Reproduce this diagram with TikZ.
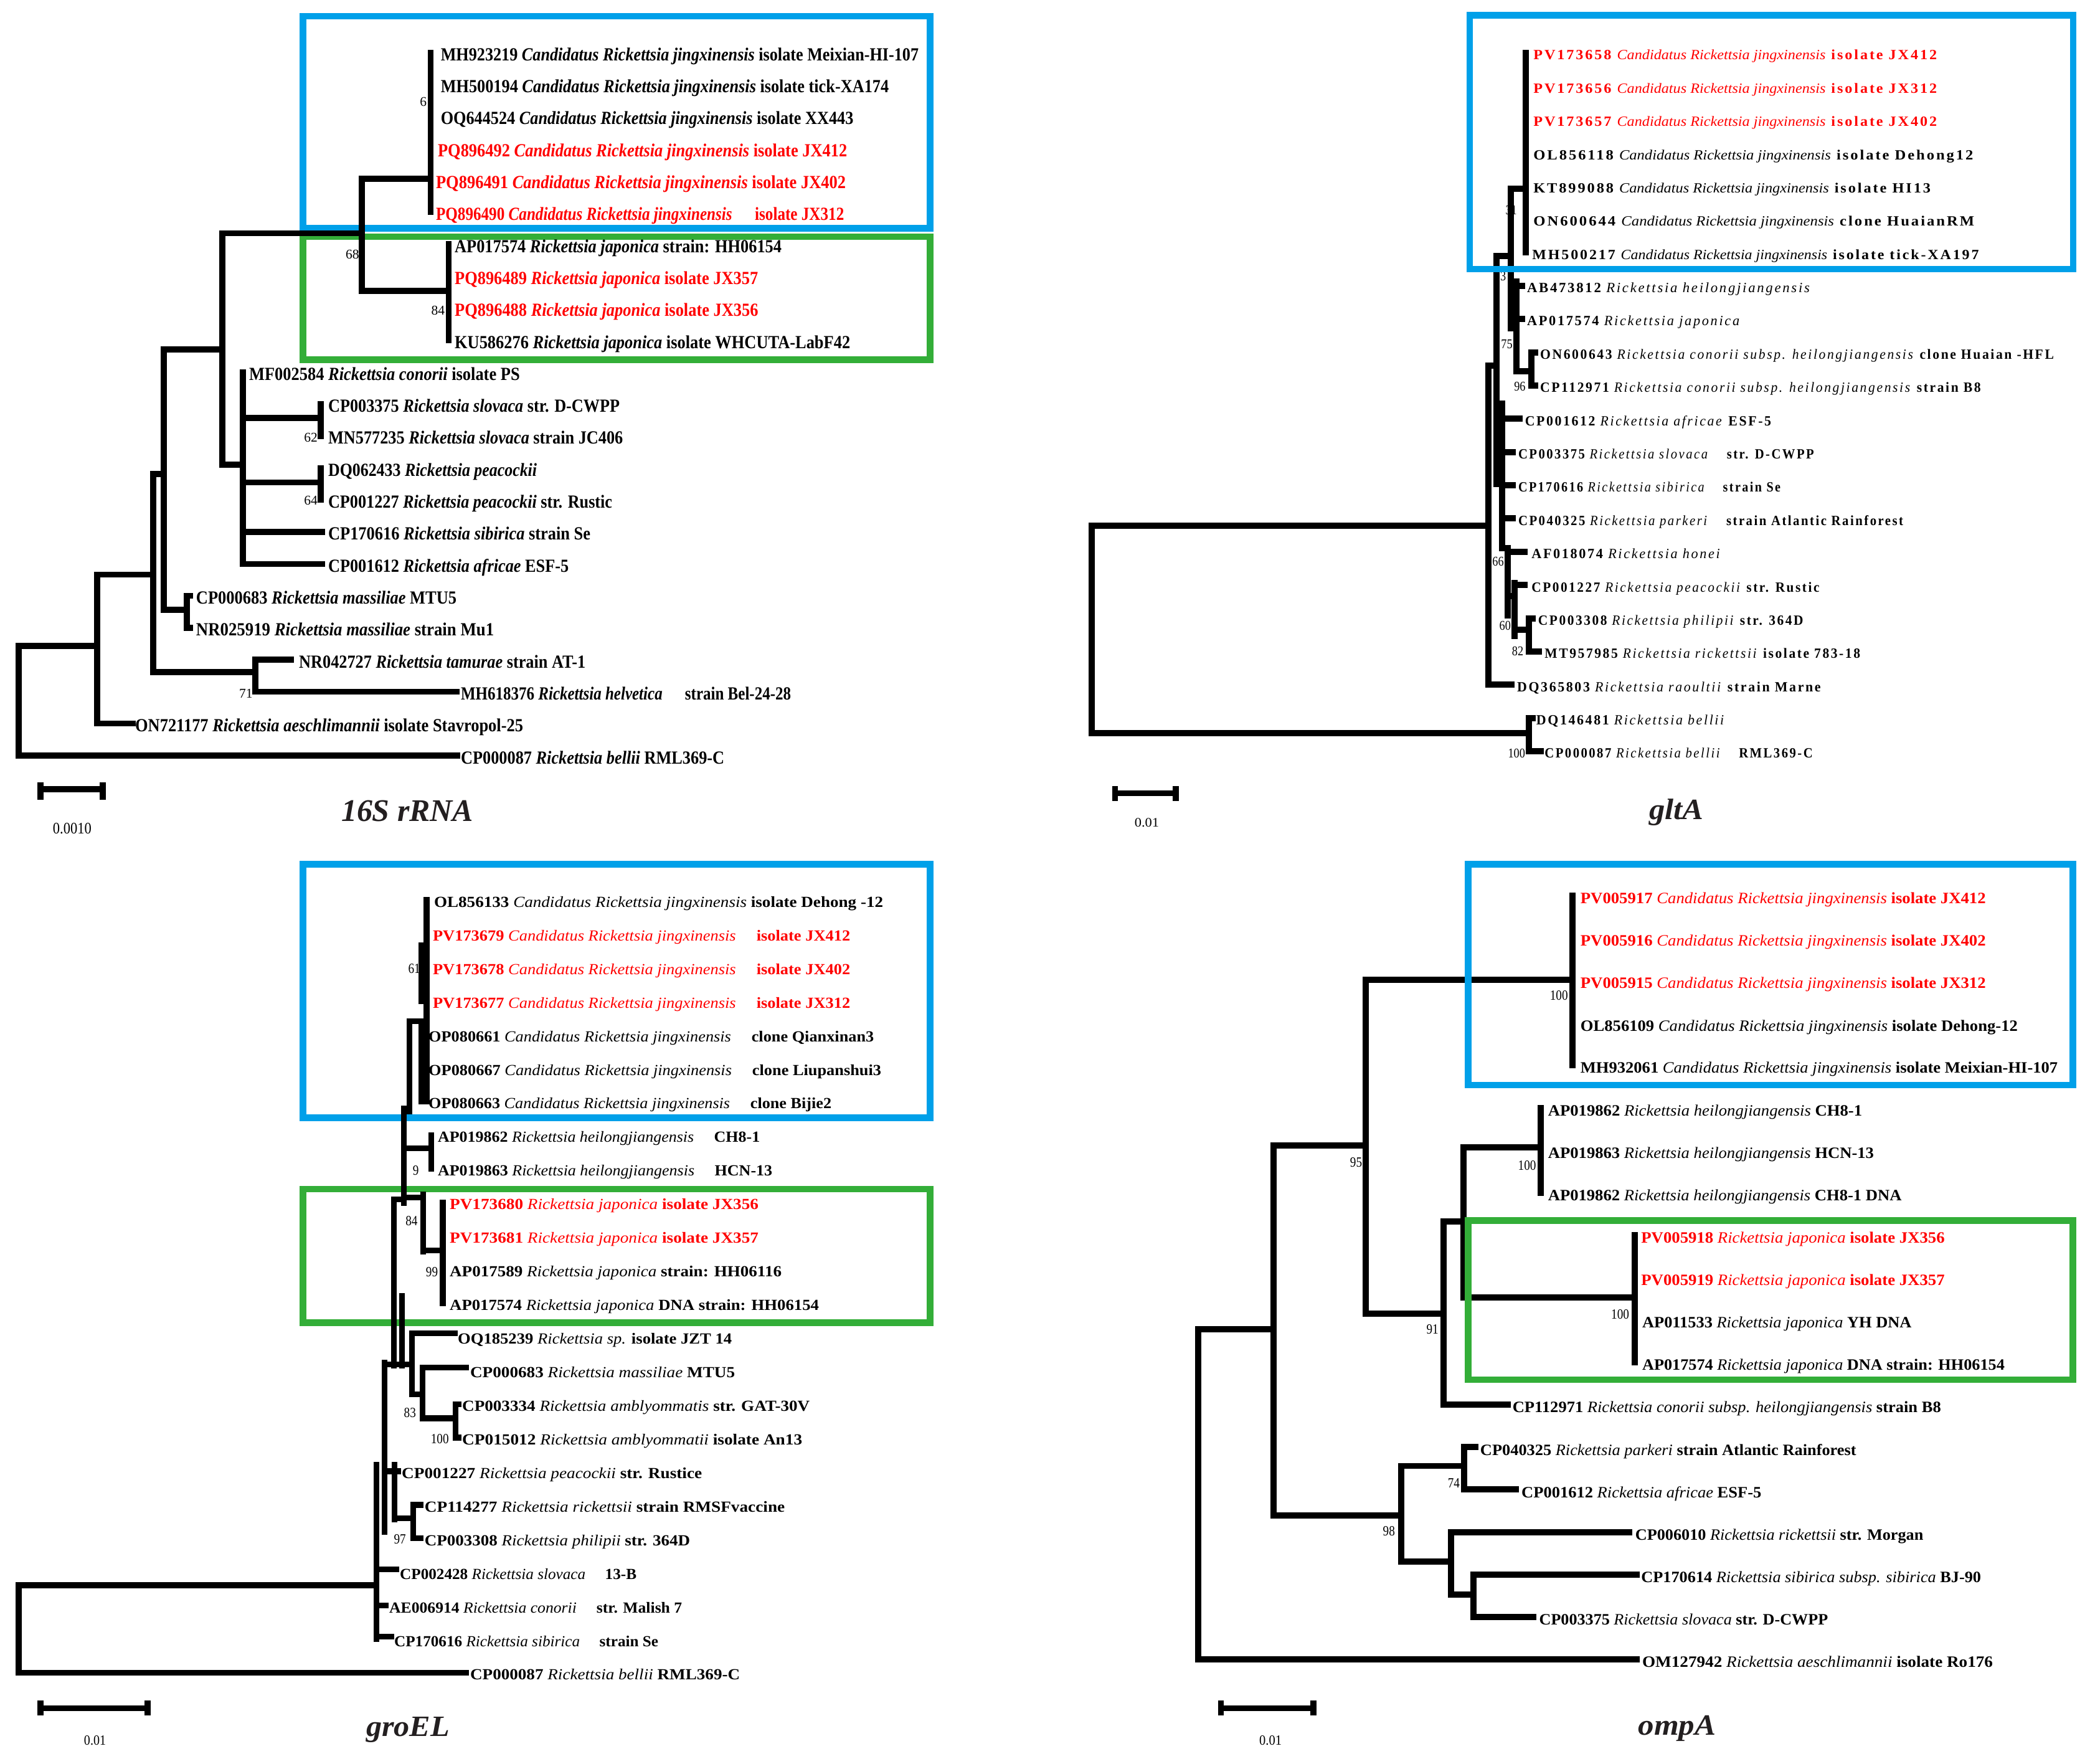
\documentclass[tikz,border=0pt]{standalone}
\usepackage{fontspec}
\usepackage{graphicx}
\setmainfont{Liberation Serif}
\newfontfamily\gfont[LetterSpace=12]{Liberation Serif}
\newfontfamily\bsfont[FakeStretch=0.85]{Liberation Serif}
\definecolor{boxblue}{RGB}{0,160,233}
\definecolor{boxgreen}{RGB}{51,174,56}
\definecolor{labred}{RGB}{255,0,0}
\definecolor{titlec}{RGB}{35,31,32}
\newcommand\R[1]{\textcolor{labred}{#1}}
\newcommand\pf{}
\newcommand\bsf{}
\newcommand\bo{0}
\newcommand\txs{\mdseries}
\newcommand\tx[1]{\textit{\txs #1}}
\newcommand\leaf[5]{\node[leafn] (#1) at (#2,#4+\bo) {\resizebox{\dimexpr #3pt-#2pt\relax}{\height}{\pf #5}};}
\newcommand\bs[4]{\node[bsn] (#1) at (#2,#3) {\bsf #4};}
\tikzset{
  br/.style={line width=4.4pt, line cap=rect},
  sbar/.style={line width=4.4pt, line cap=butt},
  bluebox/.style={draw=boxblue, line width=5pt},
  greenbox/.style={draw=boxgreen, line width=5pt},
  leafn/.style={anchor=base west, inner sep=0pt, outer sep=0pt},
  bsn/.style={inner sep=0pt, outer sep=0pt},
  titlen/.style={anchor=base west, inner sep=0pt, outer sep=0pt, text=titlec},
  scalen/.style={inner sep=0pt, outer sep=0pt},
}
\begin{document}
\begin{tikzpicture}[x=1pt,y=-1pt]
\useasboundingbox[fill=white] (0,0) rectangle (1560,1316.4);

%================ 16S rRNA =================
\draw[bluebox] (226,12.1) rectangle (694.3,170.3);
\draw[greenbox] (226,176.6) rectangle (694.3,268.3);
\renewcommand\bsf{\fontsize{10}{11}\selectfont}
\bs{s1}{316}{76}{6}
\bs{s2}{263}{190}{68}
\bs{s3}{327}{231.5}{84}
\bs{s4}{232}{326.5}{62}
\bs{s5}{232}{373.5}{64}
\bs{s6}{183.5}{517.4}{71}
\begin{scope}[br]
\draw (14,482) -- (14,563.9);
\draw (14,482) -- (72.5,482);
\draw (14,563.9) -- (341.5,563.9);
\draw (72.5,428.8) -- (72.5,540);
\draw (72.5,540) -- (99,540);
\draw (72.5,428.8) -- (114.4,428.8);
\draw (114.4,353.7) -- (114.4,501.6);
\draw (114.4,353.7) -- (122.3,353.7);
\draw (114.4,501.6) -- (190.6,501.6);
\draw (190.6,492.3) -- (190.6,516.2);
\draw (190.6,492.3) -- (217,492.3);
\draw (190.6,516.2) -- (341,516.2);
\draw (122.3,260.8) -- (122.3,455);
\draw (122.3,455) -- (139.5,455);
\draw (139.5,444.6) -- (139.5,468.5);
\draw (139.5,444.6) -- (142,444.6);
\draw (139.5,468.5) -- (142,468.5);
\draw (122.3,260.8) -- (166,260.8);
\draw (166,174.2) -- (166,346.8);
\draw (166,346.8) -- (181.3,346.8);
\draw (181.3,277.7) -- (181.3,420.8);
\draw (181.3,311.9) -- (239.4,311.9);
\draw (239.4,301.5) -- (239.4,325.4);
\draw (181.3,360) -- (239.4,360);
\draw (239.4,349.2) -- (239.4,373.1);
\draw (181.3,396.9) -- (240.5,396.9);
\draw (181.3,420.8) -- (240.5,420.8);
\draw (166,174.2) -- (270,174.2);
\draw (270,133.5) -- (270,217);
\draw (270,133.5) -- (321.5,133.5);
\draw (321.5,39.2) -- (321.5,158.4);
\draw (270,217) -- (335,217);
\draw (335,182.3) -- (335,253.8);
\end{scope}
\renewcommand\pf{\bfseries\fontsize{13.8}{15}\selectfont}
\renewcommand\txs{}
\renewcommand\bo{4.5}
\leaf{a1}{329}{685.7}{40.7}{MH923219 \tx{Candidatus Rickettsia jingxinensis} isolate Meixian-HI-107}
\leaf{a2}{329}{663.4}{64.55}{MH500194 \tx{Candidatus Rickettsia jingxinensis} isolate tick-XA174}
\leaf{a3}{329}{637}{88.4}{OQ644524 \tx{Candidatus Rickettsia jingxinensis} isolate XX443}
\leaf{a4}{326.8}{632.3}{112.25}{\R{PQ896492 \tx{Candidatus Rickettsia jingxinensis} isolate JX412}}
\leaf{a5}{325.4}{631.3}{136.1}{\R{PQ896491 \tx{Candidatus Rickettsia jingxinensis} isolate JX402}}
\leaf{a6}{325.4}{630}{159.95}{\R{PQ896490 \tx{Candidatus Rickettsia jingxinensis}\hspace{1.2em} isolate JX312}}
\leaf{a7}{339.4}{583.4}{183.8}{AP017574 \tx{Rickettsia japonica} strain: HH06154}
\leaf{a8}{339.4}{565.8}{207.65}{\R{PQ896489 \tx{Rickettsia japonica} isolate JX357}}
\leaf{a9}{339.4}{566}{231.5}{\R{PQ896488 \tx{Rickettsia japonica} isolate JX356}}
\leaf{a10}{339.4}{634.6}{255.35}{KU586276 \tx{Rickettsia japonica} isolate WHCUTA-LabF42}
\leaf{a11}{186}{388}{279.2}{MF002584 \tx{Rickettsia conorii} isolate PS}
\leaf{a12}{245}{462.6}{303.05}{CP003375 \tx{Rickettsia slovaca} str. D-CWPP}
\leaf{a13}{245}{465}{326.9}{MN577235 \tx{Rickettsia slovaca} strain JC406}
\leaf{a14}{245}{400.7}{350.75}{DQ062433 \tx{Rickettsia peacockii}}
\leaf{a15}{245}{457}{374.6}{CP001227 \tx{Rickettsia peacockii} str. Rustic}
\leaf{a16}{245}{440.7}{398.45}{CP170616 \tx{Rickettsia sibirica} strain Se}
\leaf{a17}{245}{424.5}{422.3}{CP001612 \tx{Rickettsia africae} ESF-5}
\leaf{a18}{146.4}{340.8}{446.15}{CP000683 \tx{Rickettsia massiliae} MTU5}
\leaf{a19}{146.4}{368.7}{470}{NR025919 \tx{Rickettsia massiliae} strain Mu1}
\leaf{a20}{223.2}{437}{493.85}{NR042727 \tx{Rickettsia tamurae} strain AT-1}
\leaf{a21}{344}{590.4}{517.7}{MH618376 \tx{Rickettsia helvetica}\hspace{1.2em} strain Bel-24-28}
\leaf{a22}{100.9}{390.5}{541.55}{ON721177 \tx{Rickettsia aeschlimannii} isolate Stavropol-25}
\leaf{a23}{344}{540.7}{565.4}{CP000087 \tx{Rickettsia bellii} RML369-C}
% scale bar
\draw[sbar] (30.2,589) -- (76.7,589);
\draw[sbar] (30.2,583.7) -- (30.2,596.7);
\draw[sbar] (76.7,583.7) -- (76.7,596.7);
\node[scalen] (sc1) at (53.9,618.5) {\resizebox{28.8pt}{\height}{\fontsize{12}{13}\selectfont 0.0010}};
\node[titlen] (t1) at (254.8,612.7) {\resizebox{98.5pt}{\height}{\fontsize{23.5}{26}\selectfont\bfseries\itshape 16S rRNA}};

%================ gltA =================
\renewcommand\bsf{\bsfont\fontsize{10}{11}\selectfont}
\bs{g1}{1128}{157}{31}
\bs{g2}{1122}{206.3}{3}
\bs{g3}{1124.7}{256.7}{75}
\bs{g4}{1134.4}{288.2}{96}
\bs{g5}{1118.2}{419.2}{66}
\bs{g6}{1123.4}{467.1}{60}
\bs{g7}{1132.8}{486}{82}
\bs{g8}{1132}{562.1}{100}
\begin{scope}[br, line width=4.6pt]
\draw (815,392.5) -- (815,547);
\draw (815,392.5) -- (1111,392.5);
\draw (815,547) -- (1141,547);
\draw (1141,535.8) -- (1141,560.6);
\draw (1141,535.8) -- (1144,535.8);
\draw (1141,560.6) -- (1150,560.6);
\draw (1111,273) -- (1111,511);
\draw (1111,511) -- (1128,511);
\draw (1117,191) -- (1117,361);
\draw (1111,273) -- (1117,273);
\draw (1117,191) -- (1127.5,191);
\draw (1127.5,141) -- (1127.5,245);
\draw (1127.5,141) -- (1139,141);
\draw (1139,39.6) -- (1139,188.5);
\draw (1132,210) -- (1132,277);
\draw (1132,213.3) -- (1136,213.3);
\draw (1132,238.1) -- (1136,238.1);
\draw (1132,277) -- (1143,277);
\draw (1143,262.9) -- (1143,287.7);
\draw (1143,262.9) -- (1146,262.9);
\draw (1143,287.7) -- (1146,287.7);
\draw (1121,301) -- (1121,409);
\draw (1117,361) -- (1121,361);
\draw (1121,312.5) -- (1134,312.5);
\draw (1121,337.3) -- (1129,337.3);
\draw (1121,362.1) -- (1129,362.1);
\draw (1121,386.9) -- (1129,386.9);
\draw (1121,409) -- (1125.5,409);
\draw (1125.5,409) -- (1125.5,459.5);
\draw (1125.5,411.8) -- (1138,411.8);
\draw (1125.5,445) -- (1130.5,445);
\draw (1130.5,435) -- (1130.5,474.7);
\draw (1130.5,436.6) -- (1138,436.6);
\draw (1130.5,470) -- (1141,470);
\draw (1141,461.4) -- (1141,486.2);
\draw (1141,461.4) -- (1144,461.4);
\draw (1141,486.2) -- (1148.4,486.2);
\end{scope}
\draw[bluebox] (1097,11.5) rectangle (1547.4,200.8);
\renewcommand\pf{\gfont\bfseries\fontsize{10.5}{12}\selectfont}
\renewcommand\txs{\mdseries\rmfamily}
\newcommand\gx[1]{\textit{\mdseries #1}}
\renewcommand\bo{3.5}
\leaf{b1}{1144.6}{1445.7}{41.1}{\R{PV173658 \tx{Candidatus Rickettsia jingxinensis} isolate JX412}}
\leaf{b2}{1144.6}{1445.7}{65.9}{\R{PV173656 \tx{Candidatus Rickettsia jingxinensis} isolate JX312}}
\leaf{b3}{1144.6}{1445.7}{90.7}{\R{PV173657 \tx{Candidatus Rickettsia jingxinensis} isolate JX402}}
\leaf{b4}{1144.6}{1472.8}{115.5}{OL856118 \tx{Candidatus Rickettsia jingxinensis} isolate Dehong12}
\leaf{b5}{1144.6}{1441}{140.3}{KT899088 \tx{Candidatus Rickettsia jingxinensis} isolate HI13}
\leaf{b6}{1144.6}{1473.6}{165.15}{ON600644 \tx{Candidatus Rickettsia jingxinensis} clone HuaianRM}
\leaf{b7}{1143.7}{1477}{190}{MH500217 \tx{Candidatus Rickettsia jingxinensis} isolate tick-XA197}
\leaf{b8}{1139.8}{1352}{214.8}{AB473812 \gx{Rickettsia heilongjiangensis}}
\leaf{b9}{1139.8}{1299.6}{239.6}{AP017574 \gx{Rickettsia japonica}}
\leaf{b10}{1149.6}{1533}{264.4}{ON600643 \gx{Rickettsia conorii subsp. heilongjiangensis} clone Huaian -HFL}
\leaf{b11}{1149.6}{1478.5}{289.2}{CP112971 \gx{Rickettsia conorii subsp. heilongjiangensis} strain B8}
\leaf{b12}{1138.3}{1322}{314}{CP001612 \gx{Rickettsia africae} ESF-5}
\leaf{b13}{1133.3}{1354}{338.8}{CP003375 \gx{Rickettsia slovaca}\hspace{1em} str. D-CWPP}
\leaf{b14}{1133.3}{1329}{363.6}{CP170616 \gx{Rickettsia sibirica}\hspace{1em} strain Se}
\leaf{b15}{1133.3}{1420.6}{388.4}{CP040325 \gx{Rickettsia parkeri}\hspace{1em} strain Atlantic Rainforest}
\leaf{b16}{1143.2}{1285}{413.3}{AF018074 \gx{Rickettsia honei}}
\leaf{b17}{1143.2}{1358}{438.1}{CP001227 \gx{Rickettsia peacockii} str. Rustic}
\leaf{b18}{1148.1}{1346}{462.9}{CP003308 \gx{Rickettsia philipii} str. 364D}
\leaf{b19}{1153}{1388.5}{487.7}{MT957985 \gx{Rickettsia rickettsii} isolate 783-18}
\leaf{b20}{1132.4}{1359}{512.5}{DQ365803 \gx{Rickettsia raoultii} strain Marne}
\leaf{b21}{1146.7}{1288}{537.3}{DQ146481 \gx{Rickettsia bellii}}
\leaf{b22}{1153}{1353}{562.1}{CP000087 \gx{Rickettsia bellii}\hspace{1em} RML369-C}
\draw[sbar] (832.3,592) -- (877.7,592);
\draw[sbar] (832.3,586.7) -- (832.3,598);
\draw[sbar] (877.7,586.7) -- (877.7,598);
\node[scalen] (sc2) at (856,614) {\resizebox{18.3pt}{\height}{\fontsize{9.7}{11}\selectfont 0.01}};
\node[titlen] (t2) at (1231,611.4) {\resizebox{40.6pt}{\height}{\fontsize{22}{25}\selectfont\bfseries\itshape gltA}};

%================ groEL =================
\draw[bluebox] (226,645) rectangle (694.3,834.3);
\draw[greenbox] (226,887.4) rectangle (694.3,987);
\renewcommand\bsf{\bsfont\fontsize{10.5}{11}\selectfont}
\bs{e1}{309.2}{722.7}{61}
\bs{e2}{305.5}{778.2}{5}
\bs{e3}{310.3}{873.3}{9}
\bs{e4}{307.2}{911}{84}
\bs{e5}{322.4}{949.2}{99}
\bs{e6}{306}{1054.4}{83}
\bs{e7}{328.3}{1074}{100}
\bs{e8}{298.5}{1148.7}{97}
\begin{scope}[br, line width=4.3pt]
\draw (14,1183) -- (14,1248.3);
\draw (14,1183) -- (281,1183);
\draw (14,1248.3) -- (347.7,1248.3);
\draw (281,1093) -- (281,1223);
\draw (281,1221.5) -- (292,1221.5);
\draw (281,1198.2) -- (288,1198.2);
\draw (281,1171) -- (296,1171);
\draw (287,1017) -- (287,1143);
\draw (287,1097.9) -- (297,1097.9);
\draw (294.5,1093) -- (294.5,1134);
\draw (294.5,1133) -- (308.5,1133);
\draw (308.5,1123) -- (308.5,1148);
\draw (308.5,1123) -- (314,1123);
\draw (308.5,1148) -- (314,1148);
\draw (294,895) -- (294,1019);
\draw (287,1018.3) -- (307.5,1018.3);
\draw (300,967) -- (300,1019);
\draw (307.5,994.9) -- (307.5,1040.6);
\draw (307.5,994.9) -- (339.4,994.9);
\draw (307.5,1040.6) -- (315.5,1040.6);
\draw (315.5,1020.5) -- (315.5,1058.4);
\draw (315.5,1020.5) -- (347.7,1020.5);
\draw (315.5,1058.4) -- (340,1058.4);
\draw (340,1047.8) -- (340,1072.8);
\draw (340,1047.8) -- (342.5,1047.8);
\draw (340,1072.8) -- (342.5,1072.8);
\draw (301.5,827) -- (301.5,898);
\draw (294,895) -- (301.5,895);
\draw (301.5,893.5) -- (316,893.5);
\draw (316,891.4) -- (316,934.1);
\draw (316,933) -- (330.5,933);
\draw (330.5,897.3) -- (330.5,972.5);
\draw (301.5,857) -- (322,857);
\draw (322,847.2) -- (322,872.3);
\draw (305.5,762.2) -- (305.5,829.5);
\draw (305.5,762.2) -- (316,762.2);
\draw (318.4,671.7) -- (318.4,822.1);
\draw (314.4,705.6) -- (314.4,747.3);
\draw (314.4,762.2) -- (314.4,822.1);
\end{scope}
\renewcommand\pf{\bfseries\fontsize{11.5}{13}\selectfont}
\renewcommand\txs{\mdseries}
\renewcommand\bo{3.8}
\leaf{c1}{324}{659.2}{673.2}{OL856133 \tx{Candidatus Rickettsia jingxinensis} isolate Dehong -12}
\leaf{c2}{323.1}{634.6}{698.3}{\R{PV173679 \tx{Candidatus Rickettsia jingxinensis}\hspace{1em} isolate JX412}}
\leaf{c3}{323.1}{634.6}{723.3}{\R{PV173678 \tx{Candidatus Rickettsia jingxinensis}\hspace{1em} isolate JX402}}
\leaf{c4}{323.1}{634.6}{748.4}{\R{PV173677 \tx{Candidatus Rickettsia jingxinensis}\hspace{1em} isolate JX312}}
\leaf{c5}{319.9}{652.3}{773.5}{OP080661 \tx{Candidatus Rickettsia jingxinensis}\hspace{1em} clone Qianxinan3}
\leaf{c6}{319.9}{657.8}{798.6}{OP080667 \tx{Candidatus Rickettsia jingxinensis}\hspace{1em} clone Liupanshui3}
\leaf{c7}{319.9}{620.6}{823.6}{OP080663 \tx{Candidatus Rickettsia jingxinensis}\hspace{1em} clone Bijie2}
\leaf{c8}{326.8}{567.2}{848.7}{AP019862 \tx{Rickettsia heilongjiangensis}\hspace{1em} CH8-1}
\leaf{c9}{326.8}{576.5}{873.8}{AP019863 \tx{Rickettsia heilongjiangensis}\hspace{1em} HCN-13}
\leaf{c10}{335.7}{566.2}{898.8}{\R{PV173680 \tx{Rickettsia japonica} isolate JX356}}
\leaf{c11}{335.7}{566.2}{923.9}{\R{PV173681 \tx{Rickettsia japonica} isolate JX357}}
\leaf{c12}{335.7}{583.4}{949}{AP017589 \tx{Rickettsia japonica} strain: HH06116}
\leaf{c13}{335.7}{611.3}{974}{AP017574 \tx{Rickettsia japonica} DNA strain: HH06154}
\leaf{c14}{341.7}{546.3}{999.1}{OQ185239 \tx{Rickettsia sp.} isolate JZT 14}
\leaf{c15}{351}{548.6}{1024.2}{CP000683 \tx{Rickettsia massiliae} MTU5}
\leaf{c16}{345}{604.4}{1049.3}{CP003334 \tx{Rickettsia amblyommatis} str. GAT-30V}
\leaf{c17}{345}{598.8}{1074.3}{CP015012 \tx{Rickettsia amblyommatii} isolate An13}
\leaf{c18}{299.9}{524}{1099.4}{CP001227 \tx{Rickettsia peacockii} str. Rustice}
\leaf{c19}{317}{585.8}{1124.5}{CP114277 \tx{Rickettsia rickettsii} strain RMSFvaccine}
\leaf{c20}{317}{515.1}{1149.5}{CP003308 \tx{Rickettsia philipii} str. 364D}
\leaf{c21}{298.5}{475.1}{1174.6}{CP002428 \tx{Rickettsia slovaca}\hspace{1em} 13-B}
\leaf{c22}{290.6}{509.1}{1199.7}{AE006914 \tx{Rickettsia conorii}\hspace{1em} str. Malish 7}
\leaf{c23}{294.3}{491.4}{1224.8}{CP170616 \tx{Rickettsia sibirica}\hspace{1em} strain Se}
\leaf{c24}{351}{552.3}{1249.8}{CP000087 \tx{Rickettsia bellii} RML369-C}
\draw[sbar] (30.2,1274.7) -- (110.2,1274.7);
\draw[sbar] (30.2,1269) -- (30.2,1280.3);
\draw[sbar] (110.2,1269) -- (110.2,1280.3);
\node[scalen] (sc3) at (70.9,1298.8) {\resizebox{16.3pt}{\height}{\fontsize{10.5}{12}\selectfont 0.01}};
\node[titlen] (t3) at (273.4,1295.9) {\resizebox{62.3pt}{\height}{\fontsize{22}{25}\selectfont\bfseries\itshape groEL}};

%================ ompA =================
\renewcommand\bsf{\bsfont\fontsize{10.5}{11}\selectfont}
\bs{o1}{1163.6}{743}{100}
\bs{o2}{1012.2}{867.5}{95}
\bs{o3}{1139.8}{869.6}{100}
\bs{o4}{1209.3}{980.8}{100}
\bs{o5}{1069.2}{992.2}{91}
\bs{o6}{1085.1}{1106.8}{74}
\bs{o7}{1036.7}{1142.7}{98}
\begin{scope}[br, line width=4.6pt]
\draw (894.2,992) -- (894.2,1238.3);
\draw (894.2,992) -- (950.5,992);
\draw (894.2,1238.3) -- (1221.4,1238.3);
\draw (950.5,855) -- (950.5,1131);
\draw (950.5,855) -- (1019.5,855);
\draw (950.5,1131) -- (1046,1131);
\draw (1019.5,731.3) -- (1019.5,980.4);
\draw (1019.5,731.3) -- (1173.5,731.3);
\draw (1019.5,980.4) -- (1077.6,980.4);
\draw (1173.5,668.4) -- (1173.5,795);
\draw (1077.6,911.7) -- (1077.6,1048.3);
\draw (1077.6,911.7) -- (1092.5,911.7);
\draw (1077.6,1048.3) -- (1125.6,1048.3);
\draw (1092.5,856.2) -- (1092.5,968.3);
\draw (1092.5,856.2) -- (1150,856.2);
\draw (1092.5,968.3) -- (1220,968.3);
\draw (1150,826.7) -- (1150,890);
\draw (1220,921.7) -- (1220,1016.7);
\draw (1046,1094) -- (1046,1165.5);
\draw (1046,1094) -- (1093,1094);
\draw (1046,1165.5) -- (1083,1165.5);
\draw (1093,1080) -- (1093,1111.6);
\draw (1093,1080) -- (1101,1080);
\draw (1093,1111.6) -- (1131.3,1111.6);
\draw (1083,1143.3) -- (1083,1190);
\draw (1083,1143.3) -- (1216.2,1143.3);
\draw (1083,1190) -- (1100,1190);
\draw (1100,1175) -- (1100,1206.6);
\draw (1100,1175) -- (1221.4,1175);
\draw (1100,1206.6) -- (1144.5,1206.6);
\end{scope}
\draw[bluebox] (1095.7,645) rectangle (1547.3,809.7);
\draw[greenbox] (1095.7,910.9) rectangle (1547.3,1029.6);
\renewcommand\pf{\bfseries\fontsize{11.8}{14}\selectfont}
\renewcommand\txs{\mdseries}
\renewcommand\bo{3.9}
\leaf{d1}{1179.7}{1482.2}{670.4}{\R{PV005917 \tx{Candidatus Rickettsia jingxinensis} isolate JX412}}
\leaf{d2}{1179.7}{1482.2}{702.1}{\R{PV005916 \tx{Candidatus Rickettsia jingxinensis} isolate JX402}}
\leaf{d3}{1179.7}{1482.2}{733.7}{\R{PV005915 \tx{Candidatus Rickettsia jingxinensis} isolate JX312}}
\leaf{d4}{1179.7}{1506}{765.4}{OL856109 \tx{Candidatus Rickettsia jingxinensis} isolate Dehong-12}
\leaf{d5}{1179.7}{1535.9}{797}{MH932061 \tx{Candidatus Rickettsia jingxinensis} isolate Meixian-HI-107}
\leaf{d6}{1155.5}{1389.9}{828.7}{AP019862 \tx{Rickettsia heilongjiangensis} CH8-1}
\leaf{d7}{1155.5}{1398.7}{860.4}{AP019863 \tx{Rickettsia heilongjiangensis} HCN-13}
\leaf{d8}{1155.5}{1419.4}{892}{AP019862 \tx{Rickettsia heilongjiangensis} CH8-1 DNA}
\leaf{d9}{1225}{1451.5}{923.7}{\R{PV005918 \tx{Rickettsia japonica} isolate JX356}}
\leaf{d10}{1225}{1451.5}{955.3}{\R{PV005919 \tx{Rickettsia japonica} isolate JX357}}
\leaf{d11}{1225.8}{1426.8}{987}{AP011533 \tx{Rickettsia japonica} YH DNA}
\leaf{d12}{1225.8}{1496.3}{1018.7}{AP017574 \tx{Rickettsia japonica} DNA strain: HH06154}
\leaf{d13}{1129}{1448.8}{1050.3}{CP112971 \tx{Rickettsia conorii subsp. heilongjiangensis} strain B8}
\leaf{d14}{1104.9}{1385.5}{1082}{CP040325 \tx{Rickettsia parkeri} strain Atlantic Rainforest}
\leaf{d15}{1135.7}{1314.7}{1113.6}{CP001612 \tx{Rickettsia africae} ESF-5}
\leaf{d16}{1220.6}{1435.6}{1145.3}{CP006010 \tx{Rickettsia rickettsii} str. Morgan}
\leaf{d17}{1225}{1478.7}{1177}{CP170614 \tx{Rickettsia sibirica subsp. sibirica} BJ-90}
\leaf{d18}{1148.9}{1364.4}{1208.6}{CP003375 \tx{Rickettsia slovaca} str. D-CWPP}
\leaf{d19}{1225.8}{1487.5}{1240.3}{OM127942 \tx{Rickettsia aeschlimannii} isolate Ro176}
\draw[sbar] (911.4,1274.7) -- (980.4,1274.7);
\draw[sbar] (911.4,1269) -- (911.4,1280.3);
\draw[sbar] (980.4,1269) -- (980.4,1280.3);
\node[scalen] (sc4) at (948.3,1298.8) {\resizebox{16.7pt}{\height}{\fontsize{10.5}{12}\selectfont 0.01}};
\node[titlen] (t4) at (1222.8,1294.8) {\resizebox{58pt}{\height}{\fontsize{22}{25}\selectfont\bfseries\itshape ompA}};
\end{tikzpicture}
\end{document}
